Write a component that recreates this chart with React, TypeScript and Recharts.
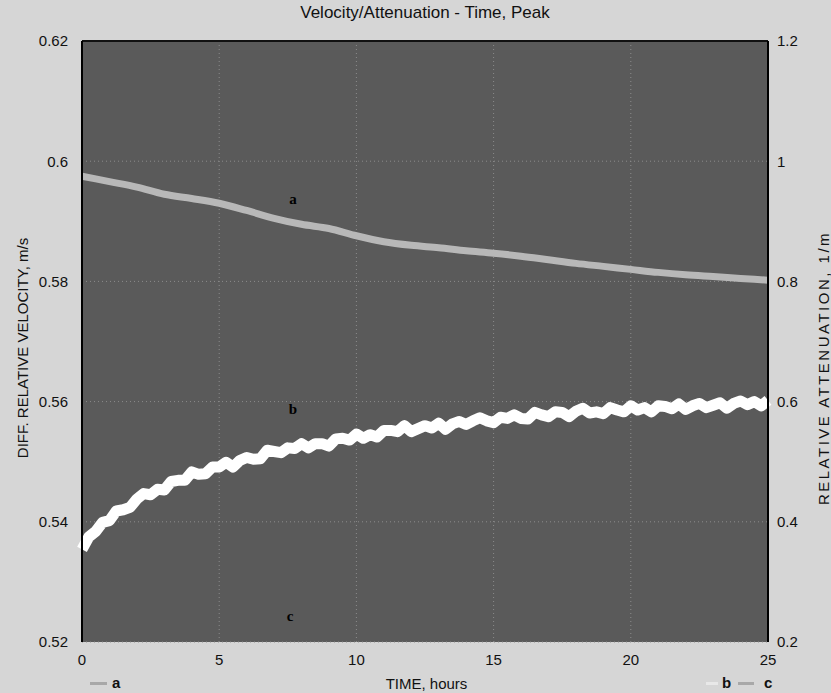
import React from "react";
import {
  CartesianGrid,
  Line,
  LineChart,
  ReferenceDot,
  ReferenceLine,
  XAxis,
  YAxis,
} from "recharts";

// hours
const timeTicks = [0, 5, 10, 15, 20, 25];
const velocityTicks = [0.52, 0.54, 0.56, 0.58, 0.6, 0.62];
const attenuationTicks = [0.2, 0.4, 0.6, 0.8, 1, 1.2];

// series a: diff. relative velocity, m/s (left axis), hourly
const aHours = [0, 1, 2, 3, 4, 5, 6, 7, 8, 9, 10, 11, 12, 13, 14, 15, 16, 17, 18, 19, 20, 21, 22, 23, 24, 25];
const aValues = [
  0.5975, 0.5966, 0.5957, 0.5945, 0.5938, 0.593, 0.5918, 0.5905, 0.5895, 0.5888,
  0.5876, 0.5866, 0.586, 0.5856, 0.5851, 0.5847, 0.5842, 0.5836, 0.583, 0.5825,
  0.582, 0.5815, 0.5811, 0.5808, 0.5805, 0.5802,
];

// series b: relative attenuation, 1/m (right axis), every 15 min
const bHours = [
  0, 0.25, 0.5, 0.75, 1, 1.25, 1.5, 1.75, 2, 2.25, 2.5, 2.75, 3, 3.25, 3.5, 3.75,
  4, 4.25, 4.5, 4.75, 5, 5.25, 5.5, 5.75, 6, 6.25, 6.5, 6.75, 7, 7.25, 7.5, 7.75,
  8, 8.25, 8.5, 8.75, 9, 9.25, 9.5, 9.75, 10, 10.25, 10.5, 10.75, 11, 11.25, 11.5,
  11.75, 12, 12.25, 12.5, 12.75, 13, 13.25, 13.5, 13.75, 14, 14.25, 14.5, 14.75,
  15, 15.25, 15.5, 15.75, 16, 16.25, 16.5, 16.75, 17, 17.25, 17.5, 17.75, 18,
  18.25, 18.5, 18.75, 19, 19.25, 19.5, 19.75, 20, 20.25, 20.5, 20.75, 21, 21.25,
  21.5, 21.75, 22, 22.25, 22.5, 22.75, 23, 23.25, 23.5, 23.75, 24, 24.25, 24.5,
  24.75, 25,
];
const bValues = [
  0.354, 0.375, 0.384, 0.399, 0.402, 0.418, 0.42, 0.424, 0.438, 0.447, 0.445,
  0.454, 0.453, 0.467, 0.469, 0.469, 0.483, 0.479, 0.48, 0.491, 0.491, 0.499,
  0.491, 0.502, 0.507, 0.504, 0.505, 0.519, 0.517, 0.515, 0.523, 0.522, 0.53,
  0.523, 0.53, 0.53, 0.526, 0.538, 0.539, 0.536, 0.546, 0.539, 0.545, 0.541,
  0.552, 0.552, 0.55, 0.56, 0.55, 0.555, 0.56, 0.556, 0.564, 0.554, 0.563, 0.567,
  0.562, 0.568, 0.573, 0.568, 0.565, 0.574, 0.572, 0.578, 0.572, 0.571, 0.582,
  0.578, 0.575, 0.583, 0.582, 0.575, 0.584, 0.589, 0.581, 0.583, 0.58, 0.59,
  0.586, 0.583, 0.593, 0.586, 0.59, 0.583, 0.593, 0.592, 0.588, 0.596, 0.587,
  0.593, 0.597, 0.59, 0.594, 0.598, 0.589, 0.597, 0.601, 0.595, 0.6, 0.593, 0.602,
];

// curve labels placed in data coordinates (left axis)
const labelNames = ["a", "b", "c"];
const labelHours = [7.69, 7.69, 7.58];
const labelValues = [0.5938, 0.5588, 0.5243];

const aData = aHours.map((t, i) => ({ t, v: aValues[i] }));
const bData = bHours.map((t, i) => ({ t, v: bValues[i] }));

const FONT = "'Liberation Sans', Arial, sans-serif";
const tickStyle = { fontSize: 15, fill: "#111", fontFamily: FONT };

export default function App() {
  return (
    <div
      style={{
        position: "absolute",
        left: 0,
        top: 0,
        width: 831,
        height: 693,
        background: "#d6d6d6",
        fontFamily: FONT,
        color: "#111",
      }}
    >
      <LineChart
        width={831}
        height={693}
        margin={{ top: 41, right: 0, bottom: 0, left: 0 }}
      >
        <CartesianGrid
          yAxisId="left"
          fill="#5a5a5a"
          stroke="#8c8c8c"
          strokeDasharray="1 3"
        />
        <XAxis
          type="number"
          dataKey="t"
          domain={[0, 25]}
          ticks={timeTicks}
          allowDuplicatedCategory={false}
          axisLine={false}
          tickLine={false}
          tickMargin={6}
          height={51}
          tick={tickStyle}
        />
        <YAxis
          yAxisId="left"
          orientation="left"
          domain={[0.52, 0.62]}
          ticks={velocityTicks}
          width={82}
          axisLine={{ stroke: "#000", strokeWidth: 2 }}
          tickLine={false}
          tickMargin={8}
          tick={tickStyle}
        />
        <YAxis
          yAxisId="right"
          orientation="right"
          domain={[0.2, 1.2]}
          ticks={attenuationTicks}
          width={63}
          axisLine={{ stroke: "#000", strokeWidth: 2 }}
          tickLine={false}
          tickMargin={3}
          tick={tickStyle}
        />
        <ReferenceLine yAxisId="left" y={0.62} stroke="#111" strokeWidth={2} />
        <Line
          yAxisId="left"
          data={aData}
          dataKey="v"
          type="monotone"
          stroke="#b8b8b8"
          strokeWidth={7}
          dot={false}
          isAnimationActive={false}
        />
        <Line
          yAxisId="right"
          data={bData}
          dataKey="v"
          type="linear"
          stroke="#ffffff"
          strokeWidth={11}
          strokeLinejoin="round"
          dot={false}
          isAnimationActive={false}
        />
        {labelNames.map((name, i) => (
          <ReferenceDot
            key={name}
            yAxisId="left"
            x={labelHours[i]}
            y={labelValues[i]}
            r={0}
            stroke="none"
            label={{
              value: name,
              position: "center",
              fill: "#000",
              fontSize: 15,
              fontWeight: 700,
              fontFamily: "'Liberation Serif', 'Times New Roman', serif",
            }}
          />
        ))}
      </LineChart>

      <div
        style={{
          position: "absolute",
          left: 0,
          width: 850,
          top: 3,
          textAlign: "center",
          fontSize: 17,
          whiteSpace: "nowrap",
        }}
      >
        Velocity/Attenuation - Time, Peak
      </div>

      <div
        style={{
          position: "absolute",
          left: 22,
          top: 348,
          transform: "translate(-50%, -50%) rotate(-90deg)",
          fontSize: 15,
          whiteSpace: "nowrap",
        }}
      >
        DIFF. RELATIVE VELOCITY, m/s
      </div>

      <div
        style={{
          position: "absolute",
          left: 823,
          top: 368,
          transform: "translate(-50%, -50%) rotate(-90deg)",
          fontSize: 15,
          letterSpacing: 2.5,
          whiteSpace: "nowrap",
        }}
      >
        RELATIVE ATTENUATION, 1/m
      </div>

      <div
        style={{
          position: "absolute",
          left: 0,
          width: 853,
          top: 675,
          textAlign: "center",
          fontSize: 15,
        }}
      >
        TIME, hours
      </div>

      {/* legend */}
      <div style={{ position: "absolute", left: 90, top: 682, width: 17, height: 3, background: "#a8a8a8" }} />
      <div style={{ position: "absolute", left: 112, top: 674, fontSize: 15, fontWeight: 700 }}>a</div>
      <div style={{ position: "absolute", left: 706, top: 682, width: 12, height: 3, background: "#e8e8e8" }} />
      <div style={{ position: "absolute", left: 722, top: 674, fontSize: 15, fontWeight: 700 }}>b</div>
      <div style={{ position: "absolute", left: 738, top: 682, width: 16, height: 3, background: "#a8a8a8" }} />
      <div style={{ position: "absolute", left: 764, top: 674, fontSize: 15, fontWeight: 700 }}>c</div>
    </div>
  );
}
